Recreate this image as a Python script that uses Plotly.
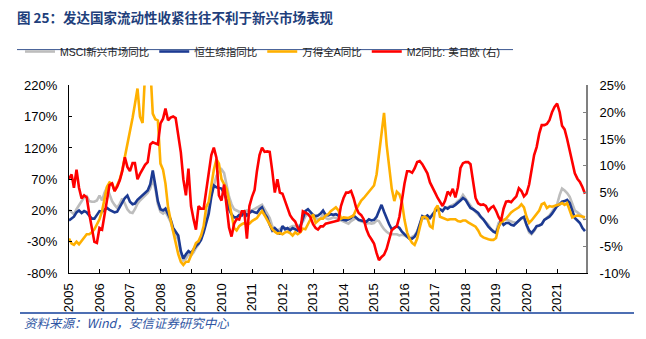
import plotly.graph_objects as go
import pandas as pd

# ---------------- data (monthly, Jan 2005 - Dec 2021) ----------------
months = pd.date_range("2005-01-01", periods=204, freq="MS")

msci_em_yoy = [
    21, 18, 14, 22, 29, 36, 41, 43, 35, 34, 34, 36,          # 2005
    44, 36, 48, 57, 46, 35, 29, 24, 31, 39, 31, 22,          # 2006
    17, 16, 22, 31, 36, 40, 45, 48, 55, 70, 55, 30,          # 2007
    18, 15, 18, 10, 2, -12, -20, -26, -48, -60, -57, -50,    # 2008
    -52, -47, -40, -34, -25, -12, 8, 22, 45, 62, 75, 82,     # 2009
    86, 80, 60, 42, 30, 22, 20, 18, 16, 19, 20, 18,          # 2010
    20, 22, 24, 27, 29, 22, 15, 8, -5, -10, -12, -10,        # 2011
    -6, -8, -10, -7, -5, -5, -6, -3, 2, 11, 14, 12,          # 2012
    10, 8, 6, 7, 14, 8, 6, 7, 9, 8, 6, 4,                    # 2013
    2, 0, -1, 3, 6, 8, 4, 3, 1, -1, 0, -1,                   # 2014
    0, 4, 3, -4, -10, -14, -17, -18, -18, -18, -20, -19,     # 2015
    -20, -22, -25, -22, -20, -13, -3, 7, 7, 7, 8, 14,        # 2016
    19, 21, 22, 20, 24, 25, 27, 28, 31, 35, 38, 45,          # 2017
    39, 32, 26, 22, 18, 14, 9, 6, 2, -3, -10, -13,           # 2018
    -14, 0, 4, 5, 6, 4, 2, 1, 0, 4, 7, 8,                    # 2019
    -5, -15, -18, -13, -6, -4, -2, 5, 8, 12, 18, 24,         # 2020
    30, 45, 55, 52, 48, 42, 30, 20, 17, 14, 10, 5,           # 2021
]

hsi_yoy = [
    4, 7, 10, 17, 20, 16, 19, 17, 11, 7, 7, 13,
    19, 18, 21, 24, 21, 19, 17, 18, 25, 32, 40, 44,
    34, 30, 31, 37, 41, 44, 48, 52, 62, 84, 60, 35,
    22, 20, 23, 15, 6, -8, -15, -20, -45, -57, -50, -45,
    -48, -42, -37, -33, -27, -15, 2, 15, 42, 60, 57, 56,
    55, 48, 38, 22, 14, 9, 9, 13, 12, 18, 12, 16,
    19, 17, 16, 22, 25, 15, 9, -3, -12, -8, -12, -18,
    -5, -10, -8, -12, -8, -10, -12, -6, 8, 19, 22, 17,
    13, 11, 12, 15, 20, 13, 12, 14, 13, 14, 12, 6,
    5, 4, 6, 8, 12, 8, 5, 4, 3, 2, 6, 4,
    5, 10, 19, 29, 18, 7, -2, -10, -7, -5, -8, -14,
    -18, -22, -25, -25, -22, -15, -1, 11, 9, 12, 8, 13,
    20, 24, 22, 19, 25, 23, 26, 26, 29, 32, 36, 40,
    37, 30, 24, 22, 19, 16, 10, 6, 0, -6, -10, -14,
    -16, -5, 3, -3, 0, 0, -3, -4, 0, 5, 8, 10,
    -3, -12, -16, -11, -5, -4, -2, 5, 7, 10, 15, 21,
    27, 30, 34, 35, 37, 32, 20, 8, 4, 0, -8, -13,
]

wind_a_yoy = [
    -25, -33, -35, -30, -34, -28, -22, -18, -18, -15, -10, -1,
    6, 19, 36, 58, 65, 63, 51, 60, 70, 85, 105, 128,
    150, 168, 190, 215, 170, 160, 240, 290, 250, 175, 166, 164,
    95, 85, 63, 25, 5, -15, -30, -50, -62, -67, -62, -62,
    -52, -40, -32, -29, -20, -5, 25, 34, 60, 85, 102, 95,
    70, 63, 55, 35, 15, -8, -12, -5, -2, 0, -3, -1,
    3, 5, 8, 14, 19, 12, 4, -2, -10, -14, -17, -16,
    -18, -15, -14, -16, -20, -15, -18, -15, -9, -10, -1, 7,
    14, 0, 4, 7, 7, 12, 14, 19, 22, 25, 20, 7,
    9, 8, 8, 10, 12, 22, 30, 36, 40, 45, 50, 55,
    60, 78, 107, 148, 176, 125, 88, 55, 35, 50, 46, 34,
    5, -15, -25, -32, -35, -25, -8, 9, 10, 7, -5, -8,
    22, 28, 10, 8, 6, 5, 6, 6, 6, 3, 2, 4,
    4, 1, -1, -4, -6, -12, -20, -23, -25, -26, -27, -27,
    -24, -6, 1, 4, 7, 12, 17, 20, 22, 25, 30, 25,
    10, 0, 4, 10, 16, 20, 30, 32, 24, 27, 26, 27,
    28, 30, 32, 29, 32, 20, 9, 11, 12, 11, 10, 9,
]

m2_us_jp_eu_yoy = [
    7.6, 8.4, 5.9, 9.3, 5.9, 3.9, 4.5, 4.1, 1.0, -1.3, -4.2, -4.4,
    -1.6, -1.9, 0.4, 3.6, 6.4, 6.7, 5.3, 6.1, 7.3, 9.0, 11.6, 9.8,
    9.0, 10.5, 10.5, 7.5, 8.5, 9.5, 10.2, 10.7, 14.0, 14.4, 14.2, 14.0,
    17.9, 18.8, 20.7, 18.5, 19.0, 19.2, 18.9, 16.0, 12.5, 7.5, 4.5, 9.5,
    2.5, 0.0, -1.9, 2.5, 2.0, 2.0, 5.5, 9.0, 12.0, 13.4, 11.5, 4.5,
    3.5, 6.5, 3.0, -1.5, -3.2, -0.8, 0.1, 0.0, 1.5, 1.5, -3.6, 2.5,
    4.2, 5.5, 9.0, 12.0, 13.4, 12.6, 12.7, 12.6, 9.0, 5.0, 7.5, 5.0,
    4.8, 3.5, 2.2, 0.8, 0.1, -0.4, -1.5, -2.4, 1.5, 1.3, 1.0, 0.4,
    -0.9, -1.6, -1.9, -1.3, -1.3, -0.8, -0.7, -0.6, -0.4, -0.4, -0.2, 2.5,
    4.0, 5.0, 5.0, 5.3, 4.0, 2.2, 1.2, 0.8, 0.0, -1.8, -3.0, -3.7,
    -4.5, -6.3, -7.6, -7.0, -6.6, -5.5, -4.0, -2.0, -1.6, -1.3, 0.5, 3.6,
    6.7, 9.0, 9.0, 8.7, 9.5, 10.7, 10.9, 10.3, 9.4, 8.6, 6.9, 5.8,
    5.0, 4.0, 3.3, 2.5, 3.5, 5.2, 4.6, 5.7, 4.1, 6.0, 9.6, 10.5,
    10.7, 10.7, 10.3, 7.5, 4.0, 3.0, 2.7, 2.8, 2.5, 1.6, 2.2, 2.5,
    1.6, 0.4, -0.3, 2.0, 3.3, 3.4, 3.2, 3.8, 4.3, 5.8, 5.3, 4.3,
    4.8, 6.5, 9.5, 12.0, 13.5, 16.0, 17.6, 17.6, 17.8, 18.5, 20.0, 21.0,
    21.6, 20.0, 17.5, 16.8, 15.0, 12.8, 10.5, 8.6, 7.6, 7.0, 6.0, 4.8,
]

series_names = ["MSCI新兴市场同比", "恒生综指同比", "万得全A同比", "M2同比: 美日欧 (右)"]
years = list(range(2005, 2022))
left_ticks = [-80, -30, 20, 70, 120, 170, 220]
right_ticks = [-10, -5, 0, 5, 10, 15, 20, 25]

title_text = "图 25：发达国家流动性收紧往往不利于新兴市场表现"
source_text = "资料来源：Wind，安信证券研究中心"

# ---------------- styling / layout ----------------
W, H = 646, 339
ML, MR, MT, MB = 69, 60, 69, 66
PW, PH = W - ML - MR, H - MT - MB


def px_x(px):
    return (px - ML) / PW


def px_y(py):
    return (H - MB - py) / PH


colors = ["#BDBDBD", "#1C3A92", "#FFB000", "#FF0000"]
values = [msci_em_yoy, hsi_yoy, wind_a_yoy, m2_us_jp_eu_yoy]
axes = ["y", "y", "y", "y2"]

fig = go.Figure()
for name, vals, col, ax in zip(series_names, values, colors, axes):
    fig.add_trace(go.Scatter(
        x=months, y=vals, name=name, mode="lines", yaxis=ax,
        line=dict(color=col, width=2.6),
    ))

base_font = "Liberation Sans, Arial, Noto Sans CJK SC, sans-serif"
cjk_font = "Noto Sans CJK SC, sans-serif"

fig.update_layout(
    width=W, height=H,
    margin=dict(l=ML, r=MR, t=MT, b=MB),
    paper_bgcolor="white", plot_bgcolor="white",
    font=dict(family=base_font, size=13, color="#000000"),
    title=dict(
        text=title_text, x=17 / W, xref="container", xanchor="left",
        y=1 - 18 / H, yref="container", yanchor="middle",
        font=dict(family=cjk_font, size=13.5, color="#213E7B", weight="bold"),
    ),
    legend=dict(
        orientation="h", x=263 / W, xref="container", xanchor="center",
        y=1 - 51.5 / H, yref="container", yanchor="middle",
        font=dict(family=base_font, size=10.5, color="#222222"),
        bgcolor="rgba(0,0,0,0)", itemwidth=30, tracegroupgap=0,
    ),
    xaxis=dict(
        type="date", range=["2005-01-01", "2021-12-13"],
        tickvals=[f"{y}-01-01" for y in years], ticktext=[str(y) for y in years],
        tickangle=-90, ticks="inside", ticklen=4, tickcolor="#000000",
        showline=True, linecolor="#000000", linewidth=1.3,
        showgrid=False, zeroline=False, ticklabelstandoff=4,
        tickfont=dict(size=13),
    ),
    yaxis=dict(
        range=[-80, 220], tickvals=left_ticks,
        ticktext=[f"{v}%" for v in left_ticks],
        ticks="inside", ticklen=3, tickcolor="#000000",
        showline=True, linecolor="#000000", linewidth=1.3,
        showgrid=False, zeroline=False, ticklabelstandoff=8,
        tickfont=dict(size=13),
    ),
    yaxis2=dict(
        overlaying="y", side="right", range=[-10, 25], tickvals=right_ticks,
        ticktext=[f"{v}%" for v in right_ticks],
        ticks="inside", ticklen=3, tickcolor="#808080",
        showline=True, linecolor="#808080", linewidth=2,
        showgrid=False, zeroline=False, ticklabelstandoff=9,
        tickfont=dict(size=13),
    ),
    shapes=[
        dict(type="line", xref="paper", yref="paper",
             x0=px_x(17), x1=px_x(513), y0=px_y(30), y1=px_y(30),
             line=dict(color="#3A5590", width=1)),
        dict(type="line", xref="paper", yref="paper",
             x0=px_x(20), x1=px_x(634), y0=px_y(316.5), y1=px_y(316.5),
             line=dict(color="#4E6FB3", width=2)),
    ],
    annotations=[
        dict(text=source_text, xref="paper", yref="paper",
             x=px_x(22), y=px_y(327), xanchor="left", yanchor="middle",
             showarrow=False,
             font=dict(family=cjk_font, size=12.5, color="#2E55A3", style="italic")),
    ],
)

fig.write_html("out.html")
